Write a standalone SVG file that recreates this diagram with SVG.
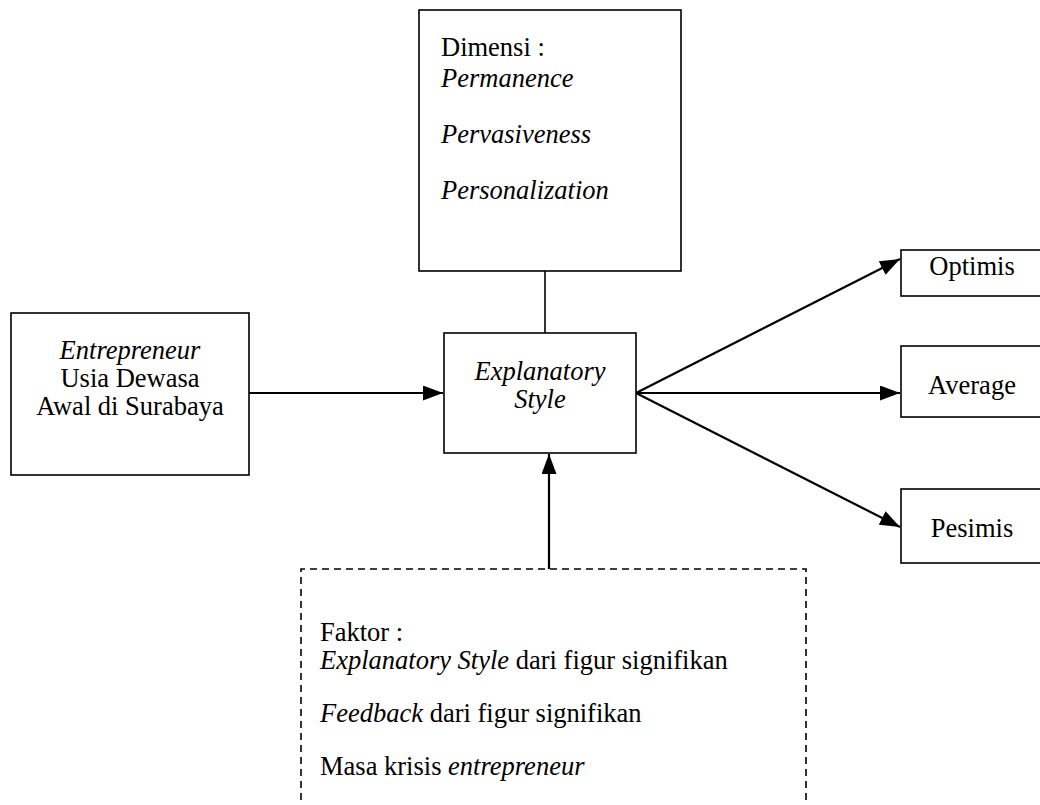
<svg xmlns="http://www.w3.org/2000/svg" width="1040" height="805" viewBox="0 0 1040 805" font-family="'Liberation Serif', 'Times New Roman', Times, serif">
<style>
.box{fill:#fff;stroke:#000;stroke-width:1.6}
.dash{fill:none;stroke:#000;stroke-width:1.6;stroke-dasharray:7,5}
.ln{fill:none;stroke:#000;stroke-width:2.2}
.thin{fill:none;stroke:#000;stroke-width:1.6}
text{font-family:'Liberation Serif','Times New Roman',Times,serif;font-size:26.5px;fill:#000}
.i{font-style:italic}
.c{text-anchor:middle}
</style>
<defs>
<marker id="ah2" markerWidth="20" markerHeight="15" refX="20" refY="7.5" orient="auto" markerUnits="userSpaceOnUse">
<path d="M0,0 L20,7.5 L0,15 Z" fill="#000"/>
</marker>
</defs>
<rect width="1040" height="805" fill="#fff"/>
<g id="connectors">
<line class="thin" x1="545" y1="271" x2="545" y2="333"/>
<line class="ln" x1="249" y1="393" x2="443" y2="393" marker-end="url(#ah2)"/>
<line class="ln" x1="636" y1="393" x2="900" y2="259" marker-end="url(#ah2)"/>
<line class="ln" x1="636" y1="393" x2="900" y2="393" marker-end="url(#ah2)"/>
<line class="ln" x1="636" y1="393" x2="900" y2="527" marker-end="url(#ah2)"/>
<line class="ln" x1="549" y1="569" x2="549" y2="454" marker-end="url(#ah2)"/>
</g>
<g id="dimensi">
<rect class="box" x="419" y="10" width="262" height="261"/>
<text x="441" y="56">Dimensi :</text>
<text class="i" x="441" y="87">Permanence</text>
<text class="i" x="441" y="143">Pervasiveness</text>
<text class="i" x="441" y="199">Personalization</text>
</g>
<g id="entrepreneur">
<rect class="box" x="11" y="313" width="238" height="162"/>
<text class="c i" x="130" y="359">Entrepreneur</text>
<text class="c" x="130" y="387">Usia Dewasa</text>
<text class="c" x="130" y="415">Awal di Surabaya</text>
</g>
<g id="explanatory">
<rect class="box" x="444" y="333" width="192" height="120"/>
<text class="c i" x="540" y="380">Explanatory</text>
<text class="c i" x="540" y="408">Style</text>
</g>
<g id="optimis">
<rect class="box" x="901" y="250" width="145" height="46"/>
<text class="c" x="972" y="275">Optimis</text>
</g>
<g id="average">
<rect class="box" x="901" y="346" width="145" height="71"/>
<text class="c" x="972" y="394">Average</text>
</g>
<g id="pesimis">
<rect class="box" x="901" y="489" width="145" height="74"/>
<text class="c" x="972" y="537">Pesimis</text>
</g>
<g id="faktor">
<path class="dash" d="M301,812 L301,569 L806,569 L806,812"/>
<text x="320" y="641">Faktor :</text>
<text x="320" y="669"><tspan class="i">Explanatory Style</tspan> dari figur signifikan</text>
<text x="320" y="722"><tspan class="i">Feedback</tspan> dari figur signifikan</text>
<text x="320" y="775">Masa krisis <tspan class="i">entrepreneur</tspan></text>
</g>
</svg>
